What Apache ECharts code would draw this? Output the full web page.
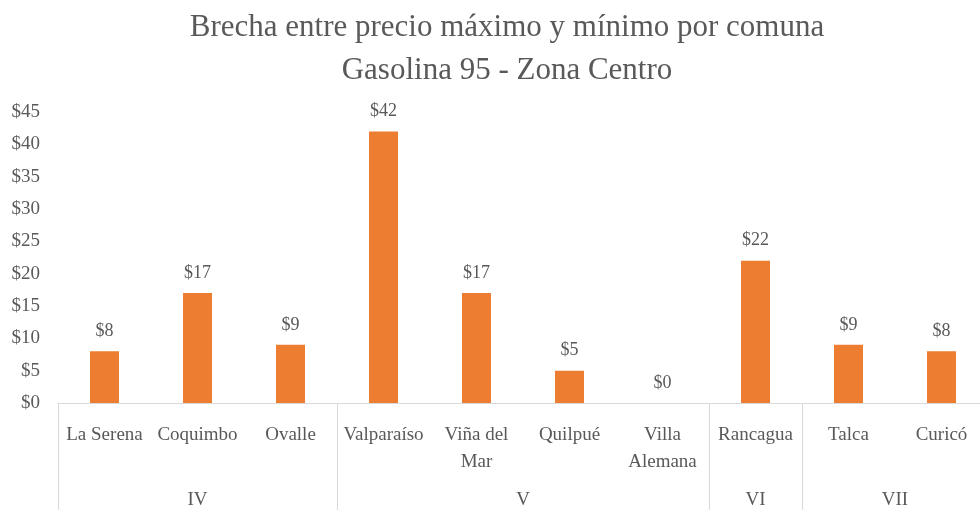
<!DOCTYPE html>
<html>
<head>
<meta charset="utf-8">
<script src="https://cdn.jsdelivr.net/npm/echarts@6/dist/echarts.min.js"></script>
<style>
  html, body { margin: 0; padding: 0; background: #fff; }
  #main { width: 980px; height: 510px; }
</style>
</head>
<body>
<div id="main"></div>
<script>
var comunas = ['La Serena', 'Coquimbo', 'Ovalle', 'Valparaíso', 'Viña del\nMar', 'Quilpué', 'Villa\nAlemana', 'Rancagua', 'Talca', 'Curicó'];
var brecha = [8, 17, 9, 42, 17, 5, 0, 22, 9, 8];
var regiones = ['IV', 'V', 'VI', 'VII'];
var regionInicio = [0, 3, 7, 8];   // first comuna index of each region
var yTicks = [0, 45, 5];           // min, max, interval

var serif = '"Liberation Serif", "DejaVu Serif", serif';
var gray = '#595959';

var chart = echarts.init(document.getElementById('main'));
var option = {
    animation: false,
    title: {
        text: 'Brecha entre precio máximo y mínimo por comuna\nGasolina 95 - Zona Centro',
        left: 502,
        top: 1,
        textAlign: 'center',
        textStyle: { fontFamily: serif, fontSize: 31, fontWeight: 'normal', color: gray, lineHeight: 43 }
    },
    grid: { left: 58, top: 112, width: 930, height: 291, containLabel: false, outerBoundsMode: 'none' },
    xAxis: {
        type: 'category',
        data: comunas,
        axisLine: { lineStyle: { color: '#D9D9D9', width: 1 } },
        axisTick: {
            show: true,
            length: 110,
            lineStyle: { color: '#D9D9D9' },
            interval: function (index) { return regionInicio.indexOf(index) >= 0; }
        },
        axisLabel: { interval: 0, fontFamily: serif, fontSize: 19, color: gray, lineHeight: 27, margin: 19 }
    },
    yAxis: {
        type: 'value',
        min: yTicks[0], max: yTicks[1], interval: yTicks[2],
        splitLine: { show: false },
        axisLine: { show: false },
        axisLabel: { fontFamily: serif, fontSize: 19, color: gray, margin: 18, formatter: '${value}' }
    },
    series: [{
        type: 'bar',
        data: brecha,
        barWidth: 29,
        itemStyle: { color: '#ED7D31' },
        label: { show: true, position: 'top', distance: 11, fontFamily: serif, fontSize: 18, color: gray, formatter: '${c}' }
    }]
};
chart.setOption(option);

// region labels centred under each group of comunas
var graphics = [];
for (var i = 0; i < regiones.length; i++) {
    var a = regionInicio[i];
    var b = (i + 1 < regionInicio.length ? regionInicio[i + 1] : comunas.length) - 1;
    var xa = chart.convertToPixel({ xAxisIndex: 0 }, a);
    var xb = chart.convertToPixel({ xAxisIndex: 0 }, b);
    graphics.push({
        type: 'text',
        x: (xa + xb) / 2,
        y: 500,
        style: { text: regiones[i], fontFamily: serif, fontSize: 19, fill: gray, align: 'center', verticalAlign: 'middle' }
    });
}
chart.setOption({ graphic: graphics });
</script>
</body>
</html>
